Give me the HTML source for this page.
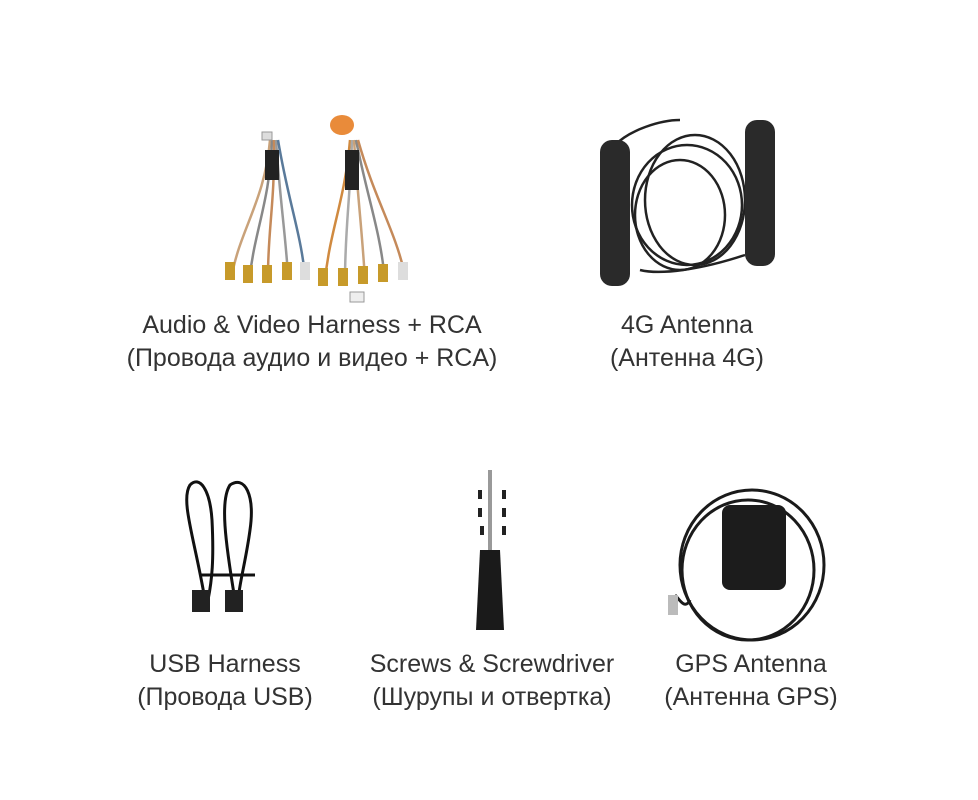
<!DOCTYPE html>
<html><head><meta charset="utf-8"><style>
body{margin:0;width:978px;height:800px;background:#fff;overflow:hidden;position:relative;font-family:"Liberation Sans",sans-serif;color:#333}
.t{position:absolute;text-align:center;font-size:25px;line-height:33px;letter-spacing:0px;transform:translateX(-50%);white-space:nowrap}
svg{position:absolute;left:0;top:0}
</style></head><body>
<svg width="978" height="800" viewBox="0 0 978 800">
<g fill="none" stroke-width="2.5">
<path d="M270 140 C265 200 240 230 232 275" stroke="#c9a27a"/>
<path d="M272 140 C270 200 255 230 250 275" stroke="#888"/>
<path d="M274 140 C275 200 268 230 268 275" stroke="#c58a5a"/>
<path d="M276 140 C280 200 285 230 288 275" stroke="#999"/>
<path d="M278 140 C288 200 300 230 305 275" stroke="#5a7a9a"/>
<path d="M350 140 C345 200 330 230 325 280" stroke="#d08a40"/>
<path d="M352 140 C350 200 345 230 345 280" stroke="#aaa"/>
<path d="M354 140 C358 200 362 230 365 280" stroke="#c9a27a"/>
<path d="M356 140 C368 200 380 230 385 280" stroke="#888"/>
<path d="M358 140 C375 200 395 230 405 275" stroke="#c58a5a"/>
</g>
<rect x="265" y="150" width="14" height="30" fill="#222"/>
<rect x="345" y="150" width="14" height="40" fill="#222"/>
<ellipse cx="342" cy="125" rx="12" ry="10" fill="#e98b3a"/>
<rect x="262" y="132" width="10" height="8" fill="#ddd" stroke="#999"/>
<g fill="#c79a2a">
<rect x="225" y="262" width="10" height="18"/><rect x="243" y="265" width="10" height="18"/><rect x="262" y="265" width="10" height="18"/><rect x="282" y="262" width="10" height="18"/>
<rect x="318" y="268" width="10" height="18"/><rect x="338" y="268" width="10" height="18"/><rect x="358" y="266" width="10" height="18"/><rect x="378" y="264" width="10" height="18"/>
</g>
<rect x="300" y="262" width="10" height="18" fill="#ddd"/><rect x="398" y="262" width="10" height="18" fill="#ddd"/>
<rect x="350" y="292" width="14" height="10" fill="#eee" stroke="#999"/>
<g fill="none" stroke="#222" stroke-width="2.5">
<ellipse cx="687" cy="205" rx="55" ry="60"/>
<ellipse cx="680" cy="215" rx="45" ry="55"/>
<ellipse cx="695" cy="200" rx="50" ry="65"/>
<path d="M640 270 C660 275 700 270 745 255"/>
<path d="M615 145 C630 130 660 120 680 120"/>
</g>
<rect x="600" y="140" width="30" height="146" rx="12" fill="#2a2a2a"/>
<rect x="745" y="120" width="30" height="146" rx="12" fill="#2a2a2a"/>
<g fill="none" stroke="#111" stroke-width="3">
<path d="M205 600 C195 540 180 500 190 485 C200 475 210 490 212 520 C214 560 212 580 208 600"/>
<path d="M235 600 C225 540 220 500 230 485 C245 475 255 495 250 530 C246 560 240 580 238 600"/>
<path d="M200 575 L255 575"/>
</g>
<rect x="192" y="590" width="18" height="22" fill="#222"/>
<rect x="225" y="590" width="18" height="22" fill="#222"/>
<rect x="488" y="470" width="4" height="80" fill="#999"/>
<path d="M480 550 L500 550 L504 630 L476 630 Z" fill="#1a1a1a"/>
<g fill="#222"><rect x="478" y="490" width="4" height="9"/><rect x="502" y="490" width="4" height="9"/><rect x="478" y="508" width="4" height="9"/><rect x="502" y="508" width="4" height="9"/><rect x="480" y="526" width="4" height="9"/><rect x="502" y="526" width="4" height="9"/></g>
<g fill="none" stroke="#1a1a1a" stroke-width="3">
<ellipse cx="752" cy="565" rx="72" ry="75"/>
<ellipse cx="748" cy="570" rx="66" ry="70"/>
<path d="M690 600 C685 610 680 600 675 595"/>
</g>
<rect x="722" y="505" width="64" height="85" rx="8" fill="#1c1c1c"/>
<rect x="668" y="595" width="10" height="20" fill="#bbb"/>
</svg>
<div class="t" style="left:312px;top:309px">Audio &amp; Video Harness + RCA<br>(Провода аудио и видео + RCA)</div>
<div class="t" style="left:687px;top:309px">4G Antenna<br>(Антенна 4G)</div>
<div class="t" style="left:225px;top:648px">USB Harness<br>(Провода USB)</div>
<div class="t" style="left:492px;top:648px">Screws &amp; Screwdriver<br>(Шурупы и отвертка)</div>
<div class="t" style="left:751px;top:648px">GPS Antenna<br>(Антенна GPS)</div>
</body></html>
